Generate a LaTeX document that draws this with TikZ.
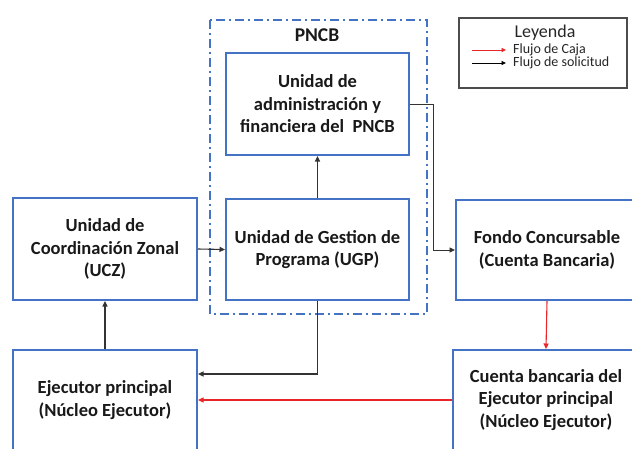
\documentclass[tikz,border=0pt]{standalone}
\usepackage{fontspec}
\setmainfont{Carlito}
\usetikzlibrary{arrows.meta,calc}
\definecolor{boxblue}{HTML}{4472C4}
\definecolor{lineg}{HTML}{333333}
\definecolor{legred}{HTML}{E8262A}
\begin{document}
\begin{tikzpicture}[x=1pt,y=-1pt,
  unit/.style={draw=boxblue,line width=2pt,fill=white,align=center,
    font=\fontsize{18.5}{22.5}\selectfont\bfseries,text=black!90,inner sep=0pt},
  conn/.style={draw=lineg,line width=1.1pt,-{Triangle[length=5.5pt,width=5pt]}},
  cash/.style={draw=legred,line width=1.1pt,-{Triangle[length=5.5pt,width=5pt]}},
  group/.style={draw=boxblue,line width=1.8pt,dash pattern=on 9pt off 4pt on 2pt off 4pt},
  legbox/.style={draw=black!70,line width=1.1pt,fill=white}]
\useasboundingbox (0,0) rectangle (632,448);
\clip (0,0) rectangle (632,448);
% PNCB group
\draw[group] (210,20) rectangle (427,314);
\node[font=\fontsize{19.5}{22}\selectfont\bfseries,text=black!90] (pncb) at (317,35) {PNCB};
% boxes
\node[unit,minimum width=183pt,minimum height=102pt] (admin) at (317.5,104) {Unidad de\\administración y\\financiera del \ PNCB};
\node[unit,minimum width=183pt,minimum height=101pt] (ugp) at (317.5,249.5) {Unidad de Gestion de\\Programa (UGP)};
\node[unit,minimum width=184pt,minimum height=102pt] (ucz) at (105,249) {Unidad de\\Coordinación Zonal\\(UCZ)};
\node[unit,minimum width=182pt,minimum height=100pt] (fondo) at (547,250) {Fondo Concursable\\(Cuenta Bancaria)};
\node[unit,minimum width=184pt,minimum height=100pt] (ejec) at (105,400) {Ejecutor principal\\(Núcleo Ejecutor)};
\node[unit,minimum width=186pt,minimum height=100pt] (cuenta) at (546,400) {Cuenta bancaria del\\Ejecutor principal\\(Núcleo Ejecutor)};
% connectors
\draw[conn] (ugp.north) -- (admin.south);
\coordinate (bend) at (433,104);
\draw[conn,line width=0.9pt] (admin.east) -- (bend) |- (fondo.west);
\draw[conn] (ucz.east) -- (ugp.west);
\draw[conn] (ejec.north) -- (ucz.south);
\coordinate (ejin) at ($(ejec.east)+(0,-26)$);
\draw[conn] (ugp.south) |- (ejin);
\draw[cash] (fondo.south) -- (cuenta.north);
\draw[cash] (cuenta.west) -- (ejec.east);
% legend
\draw[legbox] (459,18) rectangle (627,88);
\node[font=\fontsize{18}{20}\selectfont,text=black!85] (leyenda) at (545,33) {Leyenda};
\coordinate (r1) at (472,50);
\coordinate (r2) at (506,50);
\coordinate (b1) at (472,63);
\coordinate (b2) at (506,63);
\draw[legred,line width=0.9pt,-{Triangle[length=4.5pt,width=4pt]}] (r1) -- (r2);
\draw[black,line width=0.9pt,-{Triangle[length=4.5pt,width=4pt]}] (b1) -- (b2);
\node[anchor=west,font=\fontsize{14}{15}\selectfont,text=black!85,inner sep=0pt] (lcaja) at (513,50) {Flujo de Caja};
\node[anchor=west,font=\fontsize{14}{15}\selectfont,text=black!85,inner sep=0pt] (lsol) at (513,63) {Flujo de solicitud};
\end{tikzpicture}
\end{document}
